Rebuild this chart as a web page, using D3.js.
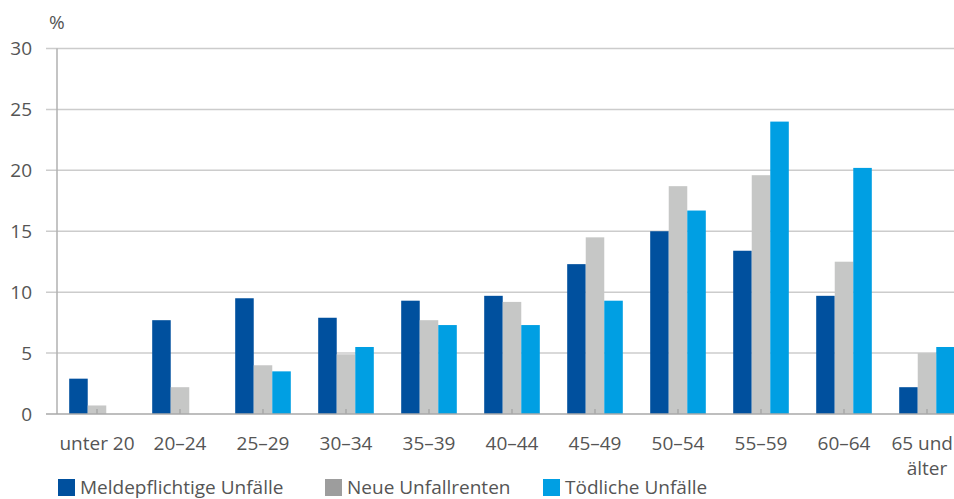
<!DOCTYPE html>
<html><head><meta charset="utf-8">
<script src="https://cdn.jsdelivr.net/npm/d3@7"></script>
<style>body{margin:0;background:#fff}svg{display:block}text{font-family:"Open Sans",sans-serif;fill:#555}</style>
</head><body><svg id="c" width="954" height="499"></svg>
<script>
const categories = ["unter 20","20–24","25–29","30–34","35–39","40–44","45–49","50–54","55–59","60–64","65 und|älter"];
const seriesNames = ["Meldepflichtige Unfälle","Neue Unfallrenten","Tödliche Unfälle"];
const meldepflichtig = [2.9,7.7,9.5,7.9,9.3,9.7,12.3,15.0,13.4,9.7,2.2];
const unfallrenten   = [0.7,2.2,4.0,4.9,7.7,9.2,14.5,18.7,19.6,12.5,5.0];
const toedlich       = [0,0,3.5,5.5,7.3,7.3,9.3,16.7,24.0,20.2,5.5];
const yTicks = [0,5,10,15,20,25,30];
const barColors = ["#00509e","#c6c7c6","#009fe3"];
const legendColors = ["#00509e","#9d9d9d","#009fe3"];

const svg = d3.select("#c");
const values = [meldepflichtig, unfallrenten, toedlich];
const y = d3.scaleLinear().domain([0,30]).range([414,48.5]);
const x = d3.scaleBand().domain(categories).range([55.5,968.5]).paddingInner(0.33).paddingOuter(0.165);
const xs = d3.scaleBand().domain(seriesNames).range([0,x.bandwidth()]);

// gridlines
svg.append("g").selectAll("line").data(yTicks.filter(d=>d>0)).join("line")
  .attr("x1",46).attr("x2",954).attr("y1",d=>y(d)).attr("y2",d=>y(d))
  .attr("stroke","#cccccc").attr("stroke-width",1.5);

// bars
const groups = svg.append("g").selectAll("g").data(categories).join("g")
  .attr("transform",d=>`translate(${x(d)},0)`);
groups.selectAll("rect").data((c,i)=>values.map((v,s)=>({s,v:v[i]}))).join("rect")
  .attr("x",d=>xs(seriesNames[d.s])).attr("width",xs.bandwidth())
  .attr("y",d=>y(d.v)).attr("height",d=>y(0)-y(d.v))
  .attr("fill",d=>barColors[d.s]);

// x ticks (inward)
svg.append("g").selectAll("line").data(categories).join("line")
  .attr("x1",d=>x(d)+x.bandwidth()/2).attr("x2",d=>x(d)+x.bandwidth()/2)
  .attr("y1",409).attr("y2",414).attr("stroke","#999").attr("stroke-width",1);

// axes lines
svg.append("line").attr("x1",57).attr("x2",57).attr("y1",y(30)).attr("y2",y(0))
  .attr("stroke","#b0b0b0").attr("stroke-width",1.5);
svg.append("line").attr("x1",46).attr("x2",954).attr("y1",y(0)).attr("y2",y(0))
  .attr("stroke","#a8a8a8").attr("stroke-width",1.5);

// y labels
svg.append("g").selectAll("text").data(yTicks).join("text")
  .attr("x",32).attr("y",d=>y(d)).attr("dy","0.36em").attr("text-anchor","end")
  .attr("font-size",19).text(d=>d);
svg.append("text").attr("x",49).attr("y",29).attr("font-size",19).text("%");

// x labels (multi-line labels drawn as separate text lines)
const xLines = [];
categories.forEach(d=>d.split("|").forEach((p,i)=>xLines.push({cat:d,text:p,line:i})));
const xl = svg.append("g").selectAll("text").data(xLines).join("text")
  .attr("x",d=>x(d.cat)+x.bandwidth()/2).attr("y",d=>450+d.line*25)
  .attr("text-anchor","middle").attr("font-size",19).text(d=>d.text);
xl.each(function(d){
  const bb = this.getBBox();
  const over = bb.x + bb.width - 953;
  if (over > 0) d3.select(this).attr("x",x(d.cat)+x.bandwidth()/2-over);
});

// legend
const legX = [58,325,543];
const lg = svg.append("g").selectAll("g").data(seriesNames).join("g")
  .attr("transform",(d,i)=>`translate(${legX[i]},479)`);
lg.append("rect").attr("width",17).attr("height",17).attr("fill",(d,i)=>legendColors[i]);
lg.append("text").attr("x",22).attr("y",15).attr("font-size",19).text(d=>d);
</script></body></html>
